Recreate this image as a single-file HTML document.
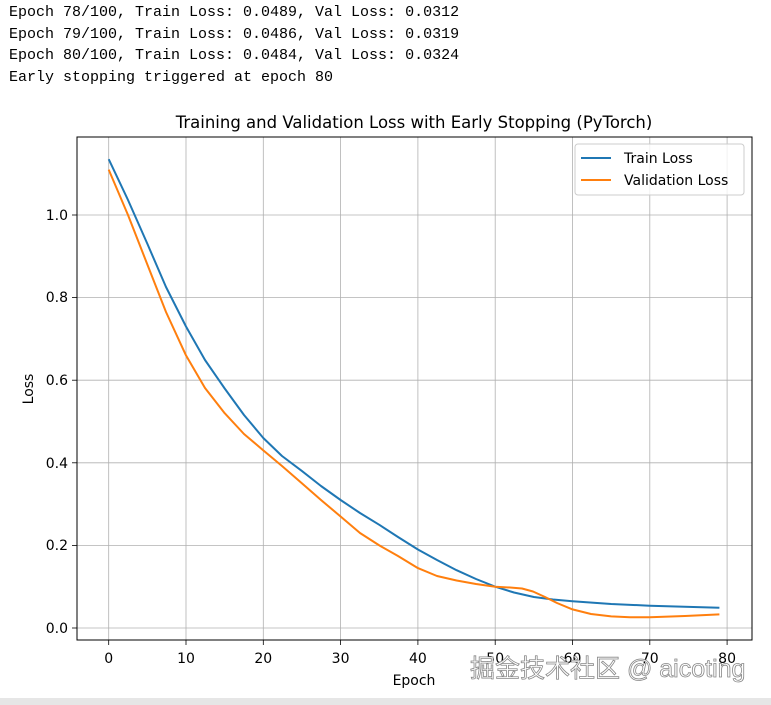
<!DOCTYPE html>
<html><head><meta charset="utf-8"><style>
body{margin:0;width:771px;height:705px;background:#fff;overflow:hidden;position:relative}
pre{position:absolute;left:9px;top:2px;margin:0;font:15px/21.7px "Liberation Mono",monospace;color:#000}
</style></head><body>
<pre>Epoch 78/100, Train Loss: 0.0489, Val Loss: 0.0312
Epoch 79/100, Train Loss: 0.0486, Val Loss: 0.0319
Epoch 80/100, Train Loss: 0.0484, Val Loss: 0.0324
Early stopping triggered at epoch 80</pre>
<svg width="771" height="705" style="position:absolute;left:0;top:0" font-family="DejaVu Sans, sans-serif">
<g stroke="#b0b0b0" stroke-width="0.8">
<line x1="108.7" y1="137" x2="108.7" y2="640"/><line x1="186" y1="137" x2="186" y2="640"/><line x1="263.3" y1="137" x2="263.3" y2="640"/><line x1="340.6" y1="137" x2="340.6" y2="640"/><line x1="417.9" y1="137" x2="417.9" y2="640"/><line x1="495.2" y1="137" x2="495.2" y2="640"/><line x1="572.5" y1="137" x2="572.5" y2="640"/><line x1="649.8" y1="137" x2="649.8" y2="640"/><line x1="727.1" y1="137" x2="727.1" y2="640"/>
<line x1="77" y1="628" x2="752" y2="628"/><line x1="77" y1="545.4" x2="752" y2="545.4"/><line x1="77" y1="462.8" x2="752" y2="462.8"/><line x1="77" y1="380.2" x2="752" y2="380.2"/><line x1="77" y1="297.6" x2="752" y2="297.6"/><line x1="77" y1="215" x2="752" y2="215"/>
</g>
<polyline fill="none" stroke="#1f77b4" stroke-width="2" stroke-linejoin="round" points="108.7,159.2 128,200 147.4,243.9 166,287 186,326.5 205,360 224.7,388.5 244,415 263.3,438 282,456 302,471.1 321,486 340.6,500 360,513 379.3,524.8 398,537 417.9,549.5 437,560 456.6,570.2 476,579 495.2,586.7 514,592.5 533.9,597 553,599.5 572.5,601.2 611.2,604 649.8,605.7 719.4,607.8"/>
<polyline fill="none" stroke="#ff7f0e" stroke-width="2" stroke-linejoin="round" points="108.7,169.6 128,215 147.4,264.6 166,312 186,355.4 205,388 224.7,413.2 244,434 263.3,450.4 282,466 302,483.4 321,500 340.6,516.5 360,533 379.3,545.4 398,556 417.9,568.1 437,576 456.6,580.5 476,584 495.2,586.7 510,587.5 522,588.5 533,591.5 545,597 557,603 572.5,609.4 591,614 611.2,616.4 630,617.3 649.8,617.3 685,616 719.4,614.4"/>
<rect x="77" y="137" width="675" height="503" fill="none" stroke="#000" stroke-width="1"/>
<g stroke="#000" stroke-width="0.8">
<line x1="108.7" y1="640" x2="108.7" y2="645"/><line x1="186" y1="640" x2="186" y2="645"/><line x1="263.3" y1="640" x2="263.3" y2="645"/><line x1="340.6" y1="640" x2="340.6" y2="645"/><line x1="417.9" y1="640" x2="417.9" y2="645"/><line x1="495.2" y1="640" x2="495.2" y2="645"/><line x1="572.5" y1="640" x2="572.5" y2="645"/><line x1="649.8" y1="640" x2="649.8" y2="645"/><line x1="727.1" y1="640" x2="727.1" y2="645"/>
<line x1="72" y1="628" x2="77" y2="628"/><line x1="72" y1="545.4" x2="77" y2="545.4"/><line x1="72" y1="462.8" x2="77" y2="462.8"/><line x1="72" y1="380.2" x2="77" y2="380.2"/><line x1="72" y1="297.6" x2="77" y2="297.6"/><line x1="72" y1="215" x2="77" y2="215"/>
</g>
<g font-size="14" text-anchor="middle" fill="#000">
<text x="108.7" y="663">0</text><text x="186" y="663">10</text><text x="263.3" y="663">20</text><text x="340.6" y="663">30</text><text x="417.9" y="663">40</text><text x="495.2" y="663">50</text><text x="572.5" y="663">60</text><text x="649.8" y="663">70</text><text x="727.1" y="663">80</text>
</g>
<g font-size="14" text-anchor="end" fill="#000">
<text x="68" y="633">0.0</text><text x="68" y="550">0.2</text><text x="68" y="468">0.4</text><text x="68" y="385">0.6</text><text x="68" y="302">0.8</text><text x="68" y="220">1.0</text>
</g>
<text x="414" y="685" font-size="14" text-anchor="middle">Epoch</text>
<text x="33" y="389" font-size="14" text-anchor="middle" transform="rotate(-90 33 389)">Loss</text>
<text x="414" y="128" font-size="16.5" text-anchor="middle">Training and Validation Loss with Early Stopping (PyTorch)</text>
<rect x="575" y="144" width="169" height="51" rx="3" fill="#fff" fill-opacity="0.8" stroke="#ccc"/>
<line x1="581" y1="158" x2="611" y2="158" stroke="#1f77b4" stroke-width="2"/>
<line x1="581" y1="180" x2="611" y2="180" stroke="#ff7f0e" stroke-width="2"/>
<text x="624" y="163" font-size="14">Train Loss</text>
<text x="624" y="185" font-size="14">Validation Loss</text>
<text x="470" y="677" font-size="25" fill="#fff" stroke="#888" stroke-width="0.8" font-family="Liberation Sans, Noto Sans CJK SC, sans-serif">掘金技术社区 @ aicoting</text>
<rect x="0" y="698" width="771" height="7" fill="#e6e6e6"/>
</svg>
</body></html>
